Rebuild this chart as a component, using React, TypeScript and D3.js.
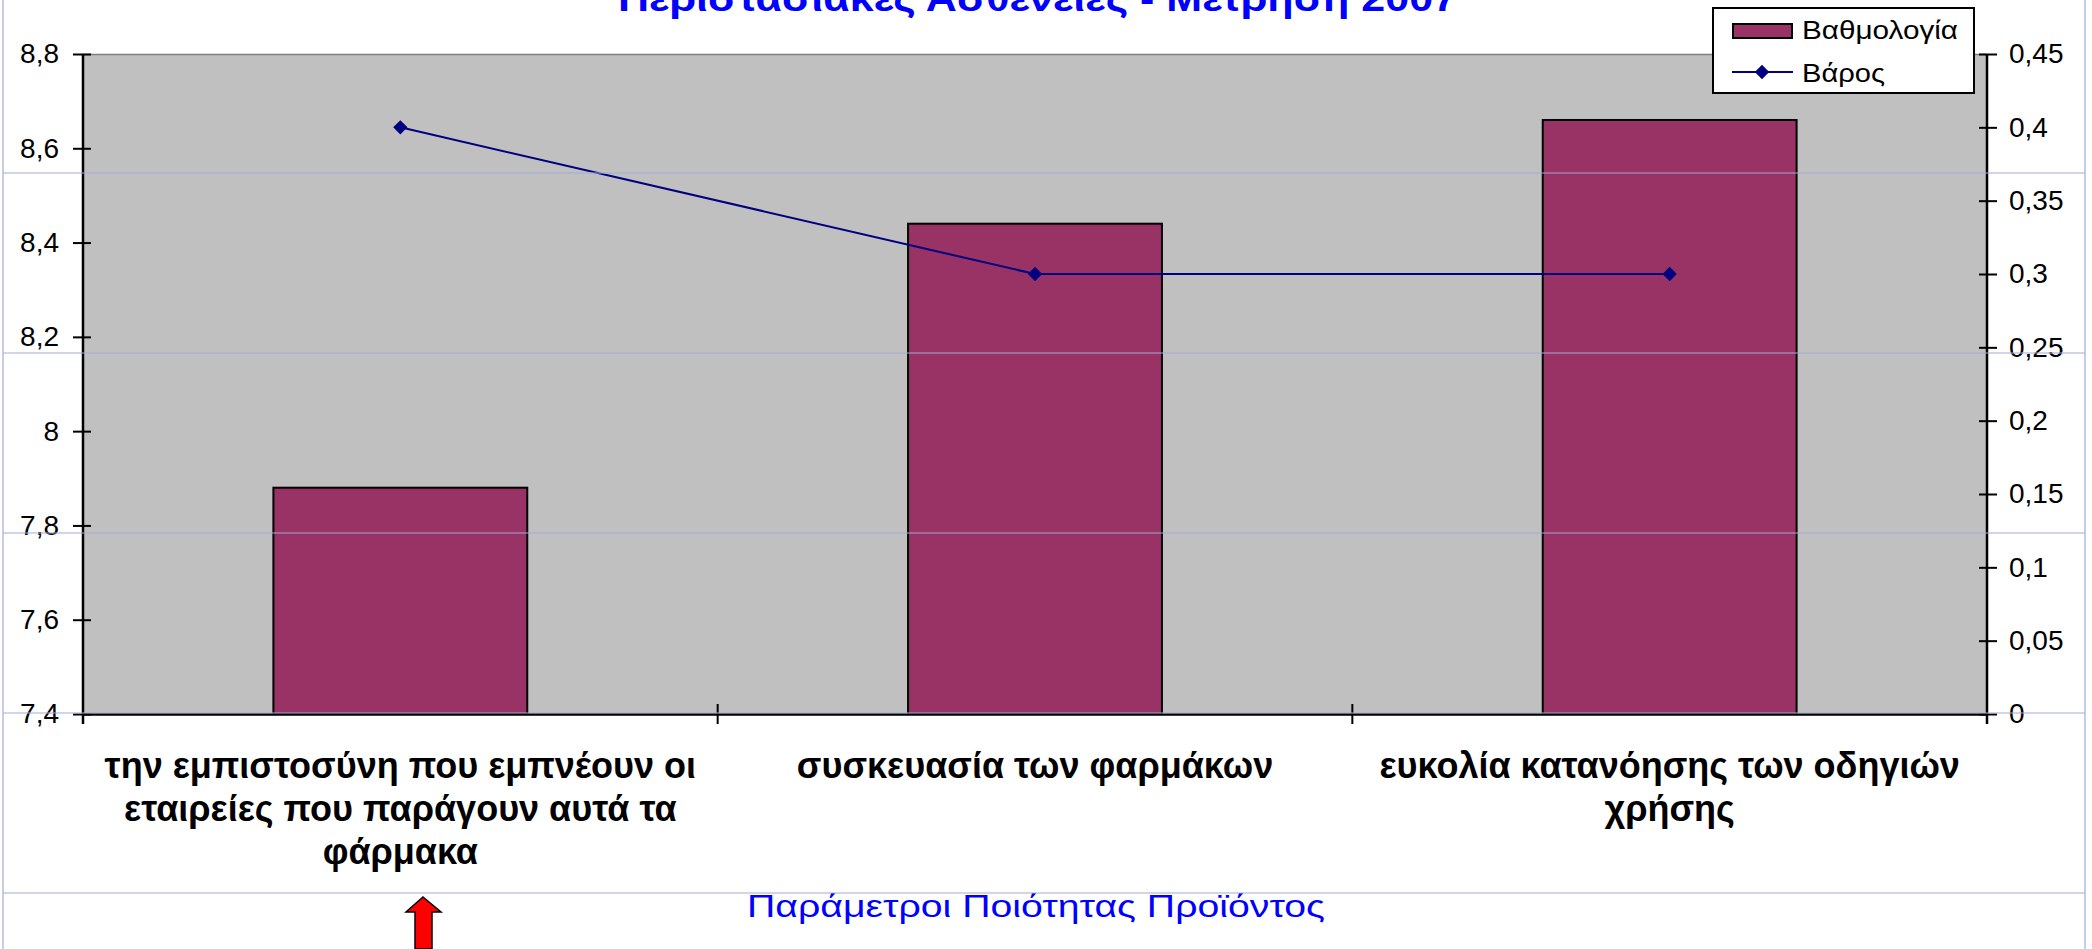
import React, { useRef, useEffect } from "react";
import * as d3 from "d3";

// chart data
const categories = [
  "την εμπιστοσύνη που εμπνέουν οι εταιρείες που παράγουν αυτά τα φάρμακα",
  "συσκευασία των φαρμάκων",
  "ευκολία κατανόησης των οδηγιών χρήσης",
];
// how each label wraps under the axis
const categoryLines = [
  ["την εμπιστοσύνη που εμπνέουν οι", "εταιρείες που παράγουν αυτά τα", "φάρμακα"],
  ["συσκευασία των φαρμάκων"],
  ["ευκολία κατανόησης των οδηγιών", "χρήσης"],
];
const scores = [7.88, 8.44, 8.66]; // Βαθμολογία (left axis)
const weights = [0.4, 0.3, 0.3]; // Βάρος (right axis)
const leftTicks = [7.4, 7.6, 7.8, 8, 8.2, 8.4, 8.6, 8.8];
const rightTicks = [0, 0.05, 0.1, 0.15, 0.2, 0.25, 0.3, 0.35, 0.4, 0.45];

const title = "Περιστασιακές Ασθένειες - Μέτρηση 2007";
const xTitle = "Παράμετροι Ποιότητας Προϊόντος";
const seriesNames = ["Βαθμολογία", "Βάρος"];

const W = 2092;
const H = 949;
const FONT = "'Liberation Sans', Arial, sans-serif";

const comma = (v: number) => String(v).replace(".", ",");

const ComboChart = () => {
  const ref = useRef<SVGSVGElement>(null);

  useEffect(() => {
    if (!ref.current) return;
    const svg = d3.select(ref.current);
    svg.selectAll("*").remove();

    const left = 83, right = 1987, top = 54, bottom = 714;

    svg.append("rect").attr("width", W).attr("height", H).attr("fill", "#fff");

    const x = d3.scaleBand().domain(categories).range([left, right]);
    const yL = d3.scaleLinear().domain([7.4, 8.8]).range([bottom, top]);
    const yR = d3.scaleLinear().domain([0, 0.45]).range([bottom, top]);

    // plot area
    svg.append("rect")
      .attr("x", left).attr("y", top)
      .attr("width", right - left).attr("height", bottom - top)
      .attr("fill", "#c0c0c0");
    svg.append("line")
      .attr("x1", left).attr("x2", right).attr("y1", top + 0.5).attr("y2", top + 0.5)
      .attr("stroke", "#808080").attr("stroke-width", 1.5);

    // bars
    const bw = x.bandwidth() * 0.4;
    svg.append("g")
      .selectAll("rect")
      .data(scores)
      .enter()
      .append("rect")
      .attr("x", (d, i) => x(categories[i])! + (x.bandwidth() - bw) / 2)
      .attr("y", (d) => yL(d))
      .attr("width", bw)
      .attr("height", (d) => bottom - yL(d))
      .attr("fill", "#993366")
      .attr("stroke", "#000")
      .attr("stroke-width", 2);

    // axes
    const axisL = svg.append("g").attr("transform", `translate(${left},0)`)
      .call(d3.axisLeft(yL).tickValues(leftTicks).tickFormat((d) => comma(+d)).tickSize(10).tickPadding(14));
    axisL.selectAll(".tick line").attr("x2", -10).attr("x1", 8);
    const axisR = svg.append("g").attr("transform", `translate(${right},0)`)
      .call(d3.axisRight(yR).tickValues(rightTicks).tickFormat((d) => comma(+d)).tickSize(10).tickPadding(12));
    axisR.selectAll(".tick line").attr("x1", -8).attr("x2", 10);
    const axisB = svg.append("g").attr("transform", `translate(0,${bottom})`)
      .call(d3.axisBottom(x).tickValues([]).tickSizeOuter(0));
    [axisL, axisR, axisB].forEach((a) => {
      a.select(".domain").attr("stroke", "#000").attr("stroke-width", 2.5);
      a.selectAll(".tick line").attr("stroke", "#000").attr("stroke-width", 2);
      a.selectAll("text").attr("font-family", FONT).attr("font-size", 28).attr("fill", "#000");
    });
    axisL.select(".domain").attr("d", `M0,${top}V${bottom + 10}`);
    axisR.select(".domain").attr("d", `M0,${top}V${bottom + 10}`);
    // category separators (cross ticks)
    svg.append("g")
      .selectAll("line")
      .data(categories.slice(1))
      .enter()
      .append("line")
      .attr("x1", (d) => x(d)!).attr("x2", (d) => x(d)!)
      .attr("y1", bottom - 10).attr("y2", bottom + 10)
      .attr("stroke", "#000").attr("stroke-width", 2);

    // weight line
    const pts = weights.map((w, i) => [x(categories[i])! + x.bandwidth() / 2, yR(w)] as [number, number]);
    svg.append("path")
      .attr("d", d3.line()(pts))
      .attr("fill", "none")
      .attr("stroke", "#000080")
      .attr("stroke-width", 2);
    const diamond = d3.symbol().type(d3.symbolDiamond2).size(130);
    svg.append("g")
      .selectAll("path")
      .data(pts)
      .enter()
      .append("path")
      .attr("transform", (d) => `translate(${d[0]},${d[1]})`)
      .attr("d", diamond)
      .attr("fill", "#000080");

    // category labels
    const lab = svg.append("g")
      .attr("font-family", FONT).attr("font-weight", "bold").attr("font-size", 36)
      .attr("text-anchor", "middle").attr("fill", "#000");
    categoryLines.forEach((lines, i) => {
      lines.forEach((ln, j) => {
        lab.append("text")
          .attr("x", x(categories[i])! + x.bandwidth() / 2)
          .attr("y", 778 + j * 43)
          .text(ln);
      });
    });

    // titles
    svg.append("text")
      .attr("x", 618).attr("y", 11)
      .attr("font-family", FONT).attr("font-weight", "bold").attr("font-size", 36)
      .attr("fill", "#0000ff")
      .attr("textLength", 839).attr("lengthAdjust", "spacingAndGlyphs")
      .text(title);
    svg.append("text")
      .attr("x", 747).attr("y", 917)
      .attr("font-family", FONT).attr("font-size", 32)
      .attr("fill", "#0000ff")
      .attr("textLength", 578).attr("lengthAdjust", "spacingAndGlyphs")
      .text(xTitle);

    // legend
    const lg = svg.append("g");
    lg.append("rect")
      .attr("x", 1713).attr("y", 8).attr("width", 261).attr("height", 85)
      .attr("fill", "#fff").attr("stroke", "#000").attr("stroke-width", 2);
    lg.append("rect")
      .attr("x", 1733).attr("y", 24).attr("width", 59).attr("height", 14)
      .attr("fill", "#993366").attr("stroke", "#000").attr("stroke-width", 2);
    lg.append("line")
      .attr("x1", 1732).attr("x2", 1793).attr("y1", 72).attr("y2", 72)
      .attr("stroke", "#000080").attr("stroke-width", 2);
    lg.append("path").attr("transform", "translate(1762,72)").attr("d", diamond).attr("fill", "#000080");
    seriesNames.forEach((n, i) => {
      lg.append("text")
        .attr("x", 1802).attr("y", 39 + i * 43)
        .attr("font-family", FONT).attr("font-size", 26).attr("fill", "#000")
        .attr("textLength", i === 0 ? 156 : 83).attr("lengthAdjust", "spacingAndGlyphs")
        .text(n);
    });

    // spreadsheet cell gridlines showing through
    const sheet = svg.append("g").attr("stroke", "#a3acd6").attr("stroke-width", 1.2);
    [173, 353, 533, 713, 893].forEach((yy) =>
      sheet.append("line").attr("x1", 3).attr("x2", 2085).attr("y1", yy).attr("y2", yy)
    );
    [3, 2085].forEach((xx) =>
      sheet.append("line").attr("x1", xx).attr("x2", xx).attr("y1", 0).attr("y2", H)
    );

    // red arrow
    svg.append("path")
      .attr("d", "M423,897 L441,912 L432,912 L432,949 L415,949 L415,912 L406,912 Z")
      .attr("fill", "#ff0000").attr("stroke", "#000").attr("stroke-width", 1.5);
  }, []);

  return <svg ref={ref} width={W} height={H} style={{ position: "absolute", left: 0, top: 0 }} />;
};

export default function App() {
  return <ComboChart />;
}
